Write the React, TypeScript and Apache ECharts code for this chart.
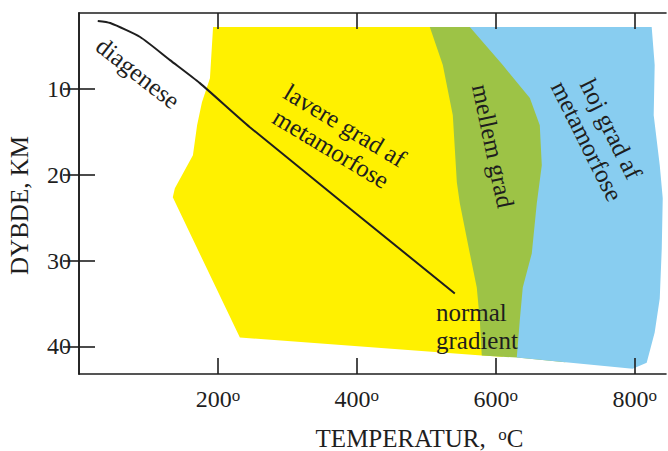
import React, { useEffect, useRef } from "react";
import * as echarts from "echarts";

const tempTicks = [200, 400, 600, 800];
const depthTicks = [10, 20, 30, 40];

// normal geothermal gradient curve [temperature °C, depth km]
const gradientLine = [
  [27, 2.13], [45, 2.37], [88, 3.99], [131, 6.68], [174, 9.36], [246, 14.49], [541, 33.83],
];

// low grade metamorphism (yellow)
const lowGrade = [
  [193, 2.83], [188.5, 8.78], [177, 11.57], [170, 14.25], [164, 17.75], [138, 21.6], [135, 22.65],
  [231.6, 38.96], [579.8, 41.06], [610, 41.2], [610, 2.83],
];

// medium grade (green)
const midGrade = [
  [505, 2.83], [523.7, 7.26], [538.1, 13.09], [543.9, 20.9], [548.2, 23.34], [562.6, 29.17],
  [572.6, 33.13], [577, 36.98], [579.8, 41.06], [630.2, 41.29], [700, 41.83], [700, 2.83],
];

// high grade (blue)
const highGrade = [
  [562.6, 2.83], [610, 7.26], [649, 11.1], [663.3, 14.25], [666.2, 18.92], [659, 23.34],
  [651.8, 29.17], [638.8, 33.13], [634.5, 36.98], [630.2, 41.29], [797, 42.58], [817.2, 41.88],
  [828.7, 38.38], [836, 34.42], [838.9, 28.59], [840.3, 22.76], [836, 18.92], [827.3, 13.09],
  [828.7, 7.26], [824.4, 2.83],
];

const FONT = "Liberation Serif";
const INK = "#1e1e1e";

function polygonSeries(points: number[][], color: string, z: number) {
  return {
    type: "custom",
    coordinateSystem: "cartesian2d",
    data: points,
    z,
    silent: true,
    clip: false,
    encode: { x: 0, y: 1 },
    renderItem: (params: any, api: any) => {
      if (params.dataIndex !== 0) return null;
      const pts = points.map((p) => api.coord(p));
      return { type: "polygon", shape: { points: pts }, style: { fill: color } };
    },
  };
}

const rad = (d: number) => (d * Math.PI) / 180;

export default function App() {
  const ref = useRef<HTMLDivElement>(null);
  useEffect(() => {
    if (!ref.current) return;
    const chart = echarts.init(ref.current, null, { renderer: "svg" });
    const axisLine = { lineStyle: { color: INK, width: 1.6 } };
    const tick = (vals: number[]) => ({
      inside: true,
      length: 16,
      customValues: vals,
      lineStyle: { color: INK, width: 1.6 },
    });
    const labelText = (text: string, x: number, y: number, rot: number, align = "center") => ({
      type: "text",
      x,
      y,
      rotation: rad(rot),
      z: 50,
      style: {
        text,
        fill: INK,
        fontFamily: FONT,
        fontSize: 25,
        align,
        verticalAlign: "middle",
        lineHeight: 27,
      },
    });
    const sup = { fontFamily: FONT, fontSize: 17, color: INK, verticalAlign: "top", lineHeight: 10 };
    chart.setOption({
      animation: false,
      grid: { left: 79, right: 2, top: 13, bottom: 77, outerBoundsMode: "none" },
      xAxis: [
        {
          type: "value",
          position: "bottom",
          min: 0,
          max: 845,
          z: 10,
          splitLine: { show: false },
          axisLine,
          axisTick: tick(tempTicks),
          axisLabel: {
            customValues: tempTicks,
            margin: 13,
            formatter: (v: number) => `{n|${v}}{s|o}`,
            rich: {
              n: { fontFamily: FONT, fontSize: 24, color: INK, lineHeight: 24 },
              s: sup,
            },
          },
          name: "{t|TEMPERATUR,  }{s|o}{t|C}",
          nameLocation: "middle",
          nameGap: 52,
          nameTextStyle: {
            padding: [0, 0, 0, 94],
            rich: {
              t: { fontFamily: FONT, fontSize: 25, color: INK, lineHeight: 25 },
              s: sup,
            },
          },
        },
        {
          type: "value",
          position: "top",
          min: 0,
          max: 845,
          z: 10,
          splitLine: { show: false },
          axisLine,
          axisTick: tick(tempTicks),
          axisLabel: { show: false },
        },
      ],
      yAxis: [
        {
          type: "value",
          inverse: true,
          min: 1.2,
          max: 43.2,
          z: 10,
          splitLine: { show: false },
          axisLine,
          axisTick: tick(depthTicks),
          axisLabel: {
            customValues: depthTicks,
            margin: 8,
            fontFamily: FONT,
            fontSize: 24,
            color: INK,
          },
          name: "DYBDE, KM",
          nameLocation: "middle",
          nameGap: 47,
          nameTextStyle: {
            fontFamily: FONT,
            fontSize: 25,
            color: INK,
            padding: [0, 24, 0, 0],
          },
        },
        {
          type: "value",
          position: "right",
          inverse: true,
          min: 1.2,
          max: 43.2,
          z: 10,
          splitLine: { show: false },
          axisLine,
          axisTick: tick(depthTicks),
          axisLabel: { show: false },
        },
      ],
      series: [
        polygonSeries(lowGrade, "#FFF100", 1),
        polygonSeries(midGrade, "#9DC346", 2),
        polygonSeries(highGrade, "#88CDF0", 3),
        {
          type: "line",
          data: gradientLine,
          z: 5,
          smooth: 0.2,
          showSymbol: false,
          symbol: "none",
          silent: true,
          lineStyle: { color: INK, width: 2 },
        },
      ],
      graphic: [
        labelText("diagenese", 138, 73, -38),
        labelText("lavere grad af\nmetamorfose", 338, 137, -31),
        labelText("mellem grad", 493, 146, -78),
        labelText("hoj grad af\nmetamorfose", 599, 135, -63.5),
        {
          type: "text",
          x: 436,
          y: 326,
          z: 50,
          style: {
            text: "normal\ngradient",
            fill: INK,
            fontFamily: FONT,
            fontSize: 25,
            align: "left",
            verticalAlign: "middle",
            lineHeight: 28,
          },
        },
      ],
    });
    return () => chart.dispose();
  }, []);
  return (
    <div
      ref={ref}
      style={{ position: "fixed", left: 0, top: 0, width: 668, height: 451, background: "#fff" }}
    />
  );
}
